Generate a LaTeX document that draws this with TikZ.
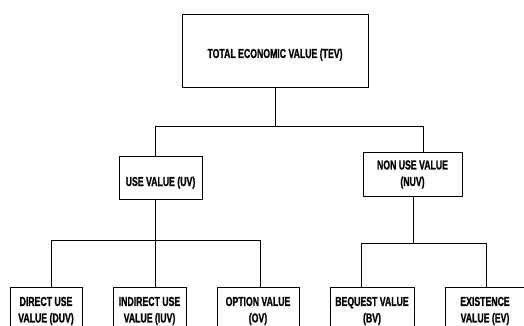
\documentclass[tikz,border=0pt]{standalone}
\usepackage{fontspec}
\setmainfont[FakeStretch=0.67,BoldFeatures={FakeBold=1}]{Liberation Sans}
\usepackage{tikz}
\usetikzlibrary{positioning,calc}

\begin{document}
\begin{tikzpicture}[
  x=1pt, y=-1pt,
  valbox/.style={rectangle, draw=black, line width=0.8pt, fill=white,
    align=center, inner sep=0pt,
    font=\bfseries\fontsize{13}{16.5}\selectfont},
  link/.style={draw=black, line width=0.8pt},
]
  \clip (0,0) rectangle (524,326);

  % top level
  \node[valbox, minimum width=186pt, minimum height=73pt, text height=17.7pt]
    (tev) at (275,50.5) {TOTAL ECONOMIC VALUE (TEV)};

  % second level
  \node[valbox, minimum width=83pt, minimum height=43pt, text height=19.7pt]
    (uv) at (160.5,177.5) {USE VALUE (UV)};
  \node[valbox, minimum width=99pt, minimum height=44pt] (nuv) at (412.5,174.5)
    {NON USE VALUE\\(NUV)};

  % third level (cut off at the bottom)
  \node[valbox, minimum width=72pt, minimum height=48pt] (duv) at (46,311)
    {DIRECT USE\\VALUE (DUV)};
  \node[valbox, minimum width=73pt, minimum height=48pt] (iuv) at (149.5,311)
    {INDIRECT USE\\VALUE (IUV)};
  \node[valbox, minimum width=82pt, minimum height=48pt] (ov) at (258,311)
    {OPTION VALUE\\(OV)};
  \node[valbox, minimum width=84pt, minimum height=48pt] (bv) at (372,311)
    {BEQUEST VALUE\\(BV)};
  \node[valbox, minimum width=80pt, minimum height=48pt] (ev) at (485,311)
    {EXISTENCE\\VALUE (EV)};

  % junctions
  \coordinate (tevJ) at (275,126);
  \coordinate (uvIn) at (155,126);
  \coordinate (nuvIn) at (423,126);
  \coordinate (uvJ) at (155,240);
  \coordinate (duvIn) at (51.5,240);
  \coordinate (ovIn) at (260,240);
  \coordinate (nuvJ) at (413,243);
  \coordinate (bvIn) at (361,243);
  \coordinate (evIn) at (486,243);

  \draw[link] (tev) -- (tevJ);
  \draw[link] (uvIn) -- (nuvIn);
  \draw[link] (uvIn) -- (uvIn |- uv.north);
  \draw[link] (nuvIn) -- (nuvIn |- nuv.north);

  \draw[link] (uvJ |- uv.south) -- (uvJ);
  \draw[link] (duvIn) -- (ovIn);
  \draw[link] (duvIn) -- (duvIn |- duv.north);
  \draw[link] (uvJ) -- (uvJ |- iuv.north);
  \draw[link] (ovIn) -- (ovIn |- ov.north);

  \draw[link] (nuvJ |- nuv.south) -- (nuvJ);
  \draw[link] (bvIn) -- (evIn);
  \draw[link] (bvIn) -- (bvIn |- bv.north);
  \draw[link] (evIn) -- (evIn |- ev.north);
\end{tikzpicture}
\end{document}
